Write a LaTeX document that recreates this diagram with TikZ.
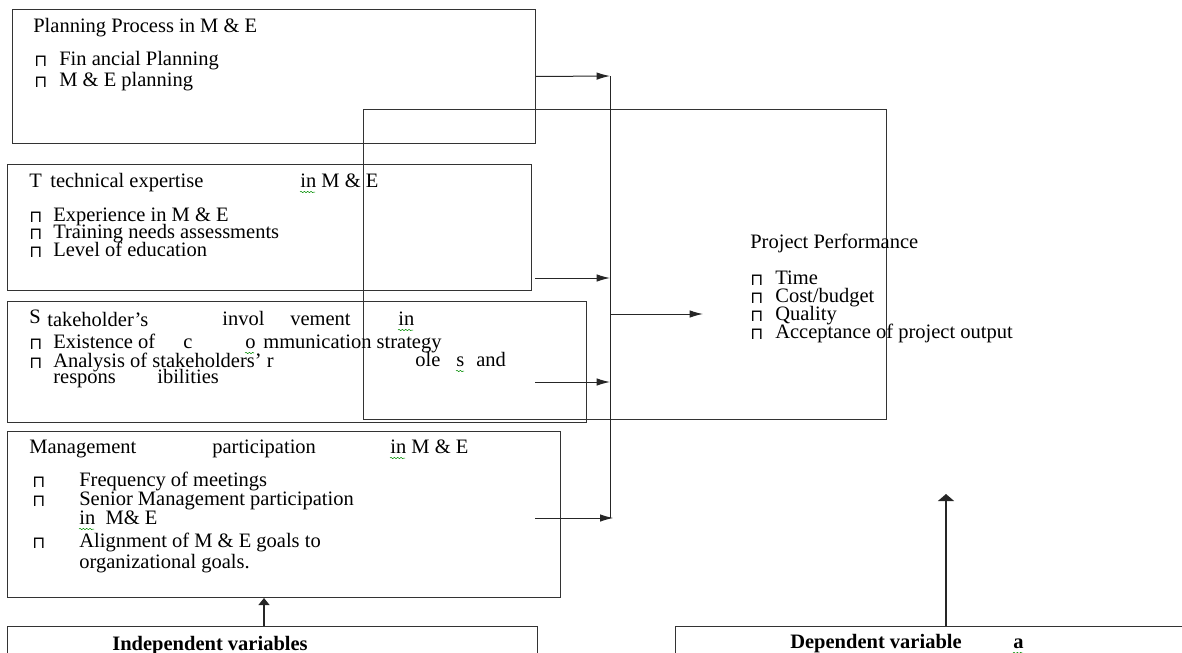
\documentclass[tikz,border=0pt]{standalone}
\usepackage{fontspec}
\setmainfont{Liberation Serif}
\newfontfamily\bulletfont{DejaVu Sans}
\usepackage{tikz}
\usetikzlibrary{arrows.meta,decorations.pathmorphing}
\tikzset{
	box/.style={draw=black!80, line width=0.6pt, anchor=north west, inner sep=0pt},
	txt/.style={anchor=base west, inner sep=0pt, font=\fontsize{12.3}{10.8}\selectfont},
	boldtxt/.style={txt, font=\fontsize{12.3}{10.8}\selectfont\bfseries},
	bul/.style={anchor=base west, inner sep=0pt, font=\bulletfont\fontsize{10}{10}\selectfont},
	arrow/.style={-{Latex[length=8pt,width=4.5pt]}, line width=0.6pt, black!85},
	uparrow/.style={-{Triangle[length=4.2pt,width=6.5pt]}, line width=1.3pt, black!85},
	squiggle/.style={green!55!black, line width=0.3pt,
		decorate, decoration={snake, amplitude=0.4pt, segment length=2pt}}
}
\newcommand{\sqb}{⊓}

\begin{document}
\begin{tikzpicture}[x=0.6pt, y=-0.6pt]
			\useasboundingbox (0,0) rectangle (1182,653);
			\clip (0,0) rectangle (1182,653);
			
			%% -- Boxes of the independent variables (left column)
			\node[box, minimum width=523*0.6pt, minimum height=134*0.6pt] (plan) at (12,9) {};
			\node[box, minimum width=524*0.6pt, minimum height=126*0.6pt] (tech) at (7,164) {};
			\node[box, minimum width=579*0.6pt, minimum height=121*0.6pt] (stake) at (7,301) {};
			\node[box, minimum width=553*0.6pt, minimum height=166*0.6pt] (mgmt) at (7,431) {};
			
			%% -- Dependent variable box (overlapping)
			\node[box, minimum width=523*0.6pt, minimum height=310*0.6pt] (perf) at (363,109) {};
			
			%% -- Caption boxes (cut by the bottom edge)
			\node[box, minimum width=530*0.6pt, minimum height=80*0.6pt] (indep) at (7,626) {};
			\node[box, minimum width=530*0.6pt, minimum height=80*0.6pt] (dep) at (675,626) {};
			
			%% -- Planning process
			\node[txt] (plan-t) at (33,32) {Planning Process in M \& E};
			\node[bul] (plan-b1) at (34,66) {\sqb};
			\node[txt] (plan-i1) at (59,65) {Fin ancial Planning};
			\node[bul] (plan-b2) at (34,87) {\sqb};
			\node[txt] (plan-i2) at (59,86) {M \& E planning};
			
			%% -- Technical expertise
			\node[txt] (tech-t1) at (29,187) {T};
			\node[txt] (tech-t2) at (50,187) {technical expertise};
			\node[txt] (tech-t3) at (300,187) {in M \& E};
			\node[bul] (tech-b1) at (29,222) {\sqb};
			\node[txt] (tech-i1) at (53,221) {Experience in M \& E};
			\node[bul] (tech-b2) at (29,239) {\sqb};
			\node[txt] (tech-i2) at (53,238) {Training needs assessments};
			\node[bul] (tech-b3) at (29,257) {\sqb};
			\node[txt] (tech-i3) at (53,256) {Level of education};
			
			%% -- Stakeholder involvement
			\node[txt] (stake-t1) at (29,323) {S};
			\node[txt] (stake-t2) at (47,326) {takeholder’s};
			\node[txt] (stake-t3) at (222,325) {invol};
			\node[txt] (stake-t4) at (290,325) {vement};
			\node[txt] (stake-t5) at (398,325) {in};
			\node[bul] (stake-b1) at (29,349) {\sqb};
			\node[txt] (stake-i1) at (53,348) {Existence of};
			\node[txt] (stake-i2) at (183,348) {c};
			\node[txt] (stake-i3) at (245,348) {o};
			\node[txt] (stake-i4) at (263,348) {mmunication strategy};
			\node[bul] (stake-b2) at (29,368) {\sqb};
			\node[txt] (stake-i5) at (53,367) {Analysis of stakeholders’ r};
			\node[txt] (stake-i6) at (415,366) {ole};
			\node[txt] (stake-i7) at (456,366) {s};
			\node[txt] (stake-i8) at (476,366) {and};
			\node[txt] (stake-i9) at (53,383) {respons};
			\node[txt] (stake-i10) at (157,383) {ibilities};
			
			%% -- Management participation
			\node[txt] (mgmt-t1) at (29,453) {Management};
			\node[txt] (mgmt-t2) at (212,453) {participation};
			\node[txt] (mgmt-t3) at (390,453) {in M \& E};
			\node[bul] (mgmt-b1) at (32,487) {\sqb};
			\node[txt] (mgmt-i1) at (79,486) {Frequency of meetings};
			\node[bul] (mgmt-b2) at (32,506) {\sqb};
			\node[txt] (mgmt-i2) at (79,505) {Senior Management participation};
			\node[txt] (mgmt-i3) at (79,524) {in\ \ M\& E};
			\node[bul] (mgmt-b3) at (32,548) {\sqb};
			\node[txt] (mgmt-i4) at (79,547) {Alignment of M \& E goals to};
			\node[txt] (mgmt-i5) at (79,568) {organizational goals.};
			
			%% -- Project performance
			\node[txt] (perf-t) at (750,248) {Project Performance};
			\node[bul] (perf-b1) at (750,285) {\sqb};
			\node[txt] (perf-i1) at (775,284) {Time};
			\node[bul] (perf-b2) at (750,303) {\sqb};
			\node[txt] (perf-i2) at (775,302) {Cost/budget};
			\node[bul] (perf-b3) at (750,321) {\sqb};
			\node[txt] (perf-i3) at (775,320) {Quality};
			\node[bul] (perf-b4) at (750,339) {\sqb};
			\node[txt] (perf-i4) at (775,338) {Acceptance of project output};
			
			%% -- Captions
			\node[boldtxt] (indep-t) at (112,650) {Independent variables};
			\node[boldtxt] (dep-t) at (790,648) {Dependent variable};
			\node[boldtxt] (dep-a) at (1013,648) {a};
			
			%% -- Spell-check squiggles
			\draw[squiggle] (tech-t3.base west) ++(0,5) -- ++(15,0);
			\draw[squiggle] (stake-t5.base west) ++(0,5) -- ++(15,0);
			\draw[squiggle] (stake-i3.base west) ++(0,5) -- ++(9,0);
			\draw[squiggle] (stake-i7.base west) ++(0,5) -- ++(8,0);
			\draw[squiggle] (mgmt-t3.base west) ++(0,5) -- ++(15,0);
			\draw[squiggle] (mgmt-i3.base west) ++(0,5) -- ++(15,0);
			\draw[squiggle] (dep-a.base west) ++(0,5) -- ++(10,0);
			
			%% -- Collecting line and arrows into it
			\coordinate (bus-top) at (610,76);
			\coordinate (bus-bot) at (610,518);
			\coordinate (tech-out) at (535,278);
			\coordinate (stake-out) at (535,382);
			\coordinate (mgmt-out) at (535,518);
			\coordinate (bus-mid) at (610,314);
			\coordinate (perf-in) at (703,314);
			
			\draw[black!85, line width=0.6pt] (bus-top) -- (bus-bot);
			\draw[arrow] (plan.east) -- (bus-top);
			\draw[arrow] (tech-out) -- (tech-out -| bus-top);
			\draw[arrow] (stake-out) -- (stake-out -| bus-top);
			\draw[arrow] (mgmt-out) -- ([xshift=2pt]bus-bot);
			\draw[arrow] (bus-mid) -- (perf-in);
			
			%% -- Caption arrows
			\coordinate (indep-up) at (264,626);
			\coordinate (dep-up) at (946,626);
			\coordinate (dep-top) at (946,494);
			\draw[uparrow] (indep-up) -- (indep-up |- mgmt.south);
			\draw[uparrow, -{Triangle[length=4.2pt,width=9.5pt]}] (dep-up) -- (dep-top);
			
		\end{tikzpicture}
\end{document}
